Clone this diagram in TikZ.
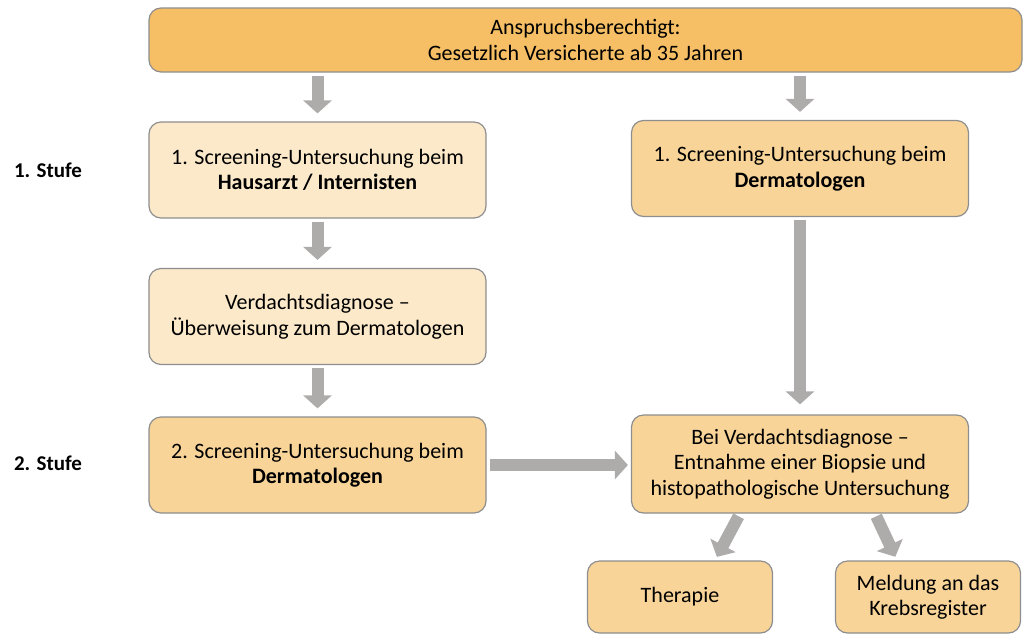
\documentclass[tikz,border=0pt]{standalone}
\usepackage{fontspec}
\setmainfont{Carlito}
\usepackage{tikz}
\usetikzlibrary{positioning,arrows.meta,calc}

\definecolor{topfill}{HTML}{F6BF65}
\definecolor{lightfill}{HTML}{FCE9CA}
\definecolor{midfill}{HTML}{F8D499}
\definecolor{boxline}{HTML}{8E8E8E}
\definecolor{arrowgray}{HTML}{AEABAB}

\tikzset{
  stage/.style={draw=boxline, line width=1.2pt, rounded corners=12pt, align=center,
    inner sep=0pt, font=\fontsize{22}{25.5}\selectfont},
  lightbox/.style={stage, fill=lightfill, minimum width=337pt, minimum height=96pt},
  midbox/.style={stage, fill=midfill, minimum width=337pt, minimum height=96pt},
  endbox/.style={stage, fill=midfill, minimum width=185pt, minimum height=72pt},
  flow/.style={draw=arrowgray, line width=12pt, -{Triangle[width=28pt,length=13pt]},
    shorten <=3pt, shorten >=8pt},
  stufe/.style={font=\fontsize{21}{25}\selectfont\bfseries}
}

\begin{document}
\begin{tikzpicture}[x=1pt, y=-1pt]
\useasboundingbox (0,0) rectangle (1025,635);
% boxes
\node[stage, fill=topfill, minimum width=873pt, minimum height=64pt] (top) at (585.5,40)
  {Anspruchsberechtigt:\\Gesetzlich Versicherte ab 35 Jahren};
\node[lightbox] (L1) at (317.5,170) {1. Screening-Untersuchung beim\\\textbf{Hausarzt / Internisten}};
\node[lightbox] (L2) at (317.5,316.5) {Verdachtsdiagnose –\\Überweisung zum Dermatologen};
\node[midbox] (L3) at (317.5,465) {2. Screening-Untersuchung beim\\\textbf{Dermatologen}};
\node[midbox] (R1) at (800,168.5) {1. Screening-Untersuchung beim\\\textbf{Dermatologen}};
\node[midbox, minimum height=98pt] (R2) at (800,464)
  {Bei Verdachtsdiagnose –\\Entnahme einer Biopsie und\\histopathologische Untersuchung};
\node[endbox] (Th) at (680,597) {Therapie};
\node[endbox] (Mel) at (928,597) {Meldung an das\\Krebsregister};
% stage labels
\node[stufe] (s1) at (48,170) {1. Stufe};
\node[stufe] (s2) at (48,463) {2. Stufe};
% arrows
\draw[flow] (top.south -| L1.north) -- (L1.north);
\draw[flow] (top.south -| R1.north) -- (R1.north);
\draw[flow] (L1) -- (L2);
\draw[flow] (L2) -- (L3);
\draw[flow, shorten >=10pt] (R1) -- (R2);
\draw[flow, shorten >=3pt] (L3.east) -- (L3.east -| R2.west);
\draw[flow, shorten >=4pt] ([xshift=-60pt]R2.south) -- ([xshift=35pt]Th.north);
\draw[flow, shorten >=4pt] ([xshift=75pt]R2.south) -- ([xshift=-31pt]Mel.north);
\end{tikzpicture}
\end{document}
